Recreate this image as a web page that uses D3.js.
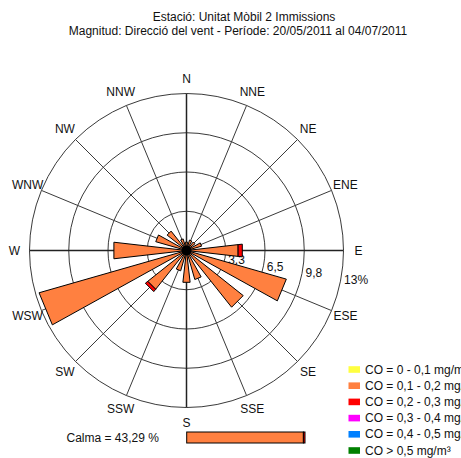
<!DOCTYPE html>
<html>
<head>
<meta charset="utf-8">
<script src="https://cdn.jsdelivr.net/npm/d3@7"></script>
<style>
  html, body { margin: 0; padding: 0; background: #fff; }
  svg { display: block; }
  text { font-family: "Liberation Sans", Arial, sans-serif; font-size: 12px; fill: #111; }
</style>
</head>
<body>
<div id="chart"></div>
<script>
// Wind directions, clockwise from north
const directions = ["N", "NNE", "NE", "ENE", "E", "ESE", "SE", "SSE",
                    "S", "SSW", "SW", "WSW", "W", "WNW", "NW", "NNW"];

// Frequency (%) of each direction, split by CO concentration class
const co_0_01  = [0, 0, 0, 0, 0, 0, 0, 0, 0, 0, 0, 0, 0, 0, 0, 0];
const co_01_02 = [0.7, 0.9, 0.9, 1.3, 4.3, 8.6, 6.0, 2.5, 2.65, 1.75, 4.1, 12.7, 6.05, 2.65, 2.05, 1.0];
const co_02_03 = [0, 0, 0, 0, 0.35, 0, 0, 0, 0, 0, 0.25, 0, 0, 0, 0, 0];
const co_03_04 = [0, 0, 0, 0, 0, 0, 0, 0, 0, 0, 0, 0, 0, 0, 0, 0];
const co_04_05 = [0, 0, 0, 0, 0, 0, 0, 0, 0, 0, 0, 0, 0, 0, 0, 0];
const co_05    = [0, 0, 0, 0, 0, 0, 0, 0, 0, 0, 0, 0, 0, 0, 0, 0];

// Radial rings and their labels
const ringValues = [3.25, 6.5, 9.75, 13];
const ringLabels = ["3,3", "6,5", "9,8", "13%"];

// Concentration classes
const classLabels = ["CO = 0 - 0,1 mg/m³", "CO = 0,1 - 0,2 mg/m³", "CO = 0,2 - 0,3 mg/m³",
                     "CO = 0,3 - 0,4 mg/m³", "CO = 0,4 - 0,5 mg/m³", "CO > 0,5 mg/m³"];
const classColors = ["#ffff40", "#ff8040", "#ff0000", "#ff00ff", "#0080ff", "#008000"];
const classSeries = [co_0_01, co_01_02, co_02_03, co_03_04, co_04_05, co_05];

// Calm periods
const calmPercent = 43.29;
const calmParts = [42.7, 0.59];   // orange, red share of the calm bar

const titleLines = ["Estació: Unitat Mòbil 2 Immissions",
                    "Magnitud: Direcció del vent - Període: 20/05/2011 al 04/07/2011"];

const W = 461, H = 458;
const cx = 186.5, cy = 250.5;
const outerR = 157;
const halfWidth = 6.5;  // degrees, half the angular width of each petal

const svg = d3.select("#chart").append("svg")
  .attr("width", W).attr("height", H);

const r = d3.scaleLinear().domain([0, 13]).range([0, outerR]);
const angle = d3.scalePoint().domain(directions).range([0, 360 - 360 / directions.length]);

const pt = (rad, deg) => {
  const a = deg * Math.PI / 180;
  return [cx + rad * Math.sin(a), cy - rad * Math.cos(a)];
};

// Title
svg.selectAll("text.title").data(titleLines).join("text")
  .attr("class", "title")
  .attr("x", (d, i) => i === 0 ? 244 : 238)
  .attr("y", (d, i) => i === 0 ? 17 : 30.5)
  .attr("text-anchor", "middle")
  .attr("dominant-baseline", "central")
  .text(d => d);

// Grid: rings
const grid = svg.append("g");
grid.selectAll("circle").data(ringValues).join("circle")
  .attr("cx", cx).attr("cy", cy).attr("r", d => r(d))
  .attr("fill", "none").attr("stroke", "#3a3a3a").attr("stroke-width", 1);

// Grid: spokes
grid.selectAll("line").data(directions).join("line")
  .attr("x1", cx).attr("y1", cy)
  .attr("x2", d => pt(outerR, angle(d))[0])
  .attr("y2", d => pt(outerR, angle(d))[1])
  .attr("stroke", d => ["N", "E", "S", "W"].includes(d) ? "#222" : "#3a3a3a")
  .attr("stroke-width", d => ["N", "E", "S", "W"].includes(d) ? 1.5 : 1);

// Direction labels
svg.append("g").selectAll("text").data(directions).join("text")
  .attr("x", d => pt(172, angle(d))[0])
  .attr("y", d => pt(172, angle(d))[1])
  .attr("text-anchor", "middle")
  .attr("dominant-baseline", "central")
  .text(d => d);

// Ring value labels with white backing
const ringG = svg.append("g");
const tilt = 100; // degrees clockwise from north
ringValues.forEach((v, i) => {
  const p = pt(r(v), tilt);
  const g = ringG.append("g");
  const t = g.append("text")
    .attr("x", p[0] + 3)
    .attr("y", p[1] + 2.5)
    .attr("dominant-baseline", "central")
    .text(ringLabels[i]);
  const bb = t.node().getBBox();
  g.insert("rect", "text")
    .attr("x", bb.x - 1).attr("y", bb.y)
    .attr("width", bb.width + 2).attr("height", bb.height)
    .attr("fill", "#fff");
});

// Petals: stacked radial segments per direction
const line = d3.line();
const petals = svg.append("g");
directions.forEach((dir, di) => {
  const a = angle(dir);
  let acc = 0;
  classSeries.forEach((series, ci) => {
    const v = series[di];
    if (v <= 0) return;
    const r0 = r(acc), r1 = r(acc + v);
    acc += v;
    const pts = r0 === 0
      ? [[cx, cy], pt(r1, a - halfWidth), pt(r1, a + halfWidth)]
      : [pt(r0, a - halfWidth), pt(r1, a - halfWidth), pt(r1, a + halfWidth), pt(r0, a + halfWidth)];
    petals.append("path")
      .attr("d", line(pts) + "Z")
      .attr("fill", classColors[ci])
      .attr("stroke", "#000")
      .attr("stroke-width", 1)
      .attr("stroke-linejoin", "miter");
  });
});

// Center hub
svg.append("circle").attr("cx", cx).attr("cy", cy).attr("r", 5).attr("fill", "#000");

// Legend
const legend = svg.append("g");
const legendY = d3.scaleLinear().domain([0, 1]).range([369.5, 385.7]);
classLabels.forEach((lab, i) => {
  legend.append("rect")
    .attr("x", 348.5).attr("y", legendY(i) - 3.3)
    .attr("width", 11.5).attr("height", 6.6)
    .attr("fill", classColors[i]);
  legend.append("text")
    .attr("x", 365).attr("y", legendY(i))
    .attr("dominant-baseline", "central")
    .text(lab);
});

// Calm summary
svg.append("text")
  .attr("x", 66.5).attr("y", 438)
  .attr("dominant-baseline", "central")
  .text("Calma = " + d3.format(".2f")(calmPercent).replace(".", ",") + " %");

const calmX = d3.scaleLinear().domain([0, calmPercent]).range([186.7, 305]);
let calmAcc = 0;
const calmColors = [classColors[1], classColors[2]];
calmParts.forEach((v, i) => {
  svg.append("rect")
    .attr("x", calmX(calmAcc)).attr("y", 432)
    .attr("width", calmX(calmAcc + v) - calmX(calmAcc)).attr("height", 11)
    .attr("fill", calmColors[i])
    .attr("stroke", "#000").attr("stroke-width", 1);
  calmAcc += v;
});
</script>
</body>
</html>
